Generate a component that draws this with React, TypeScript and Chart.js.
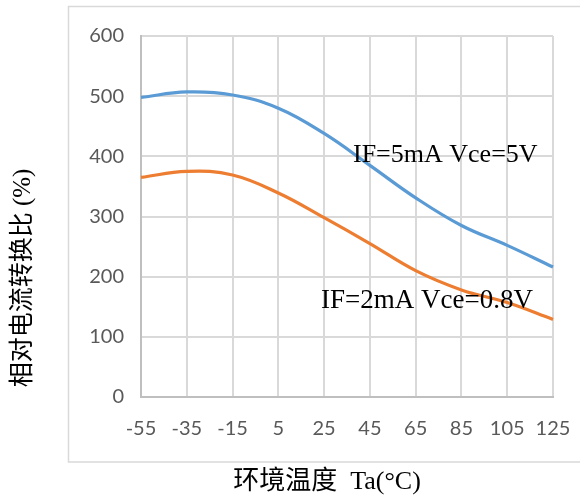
import React, { useEffect, useRef } from "react";
import { Chart, registerables } from "chart.js";

Chart.register(...registerables);

const temps = ["-55", "-35", "-15", "5", "25", "45", "65", "85", "105", "125"];
const ctr5mA = [498, 507, 502, 480, 438, 385, 331, 285, 252, 216];
const ctr2mA = [365, 375, 369, 339, 298, 255, 210, 178, 157, 129];
const seriesNames = ["IF=5mA Vce=5V", "IF=2mA Vce=0.8V"];
const yTitle = "相对电流转换比 (%)";
const xTitle = "环境温度  Ta(°C)";

const W = 580;
const H = 498;

const decor = {
  id: "decor",
  beforeDraw(chart: any) {
    const ctx = chart.ctx;
    ctx.save();
    ctx.fillStyle = "#ffffff";
    ctx.fillRect(0, 0, W, H);
    ctx.restore();
  },
  afterDraw(chart: any) {
    const ctx = chart.ctx;
    ctx.save();
    // chart frame
    ctx.strokeStyle = "#d9d9d9";
    ctx.lineWidth = 1.5;
    ctx.strokeRect(68.5, 6.5, 620, 455.5);
    // annotations
    ctx.fillStyle = "#000000";
    ctx.textBaseline = "alphabetic";
    ctx.textAlign = "left";
    ctx.font = '26px "Liberation Serif", "Times New Roman", serif';
    ctx.fillText(seriesNames[0], 353, 162);
    ctx.font = '27px "Liberation Serif", "Times New Roman", serif';
    ctx.fillText(seriesNames[1], 321, 308);
    // x title
    ctx.textAlign = "center";
    ctx.font = '26px "Liberation Serif", "Noto Sans CJK SC", serif';
    ctx.fillText(xTitle, 327, 489);
    // y title
    ctx.translate(30, 278);
    ctx.rotate(-Math.PI / 2);
    ctx.font = '25px "Liberation Serif", "Noto Sans CJK SC", serif';
    ctx.textBaseline = "alphabetic";
    ctx.fillText(yTitle, 0, 0);
    ctx.restore();
  },
};

export default function App() {
  const ref = useRef<HTMLCanvasElement | null>(null);
  useEffect(() => {
    if (!ref.current) return;
    const tickFont = { family: "Lato, 'Open Sans', sans-serif", size: 20 };
    const chart = new Chart(ref.current, {
      type: "line",
      data: {
        labels: temps,
        datasets: [
          {
            label: seriesNames[0],
            data: ctr5mA,
            borderColor: "#5B9BD5",
            borderWidth: 3.2,
            pointRadius: 0,
            tension: 0.4,
            fill: false,
          },
          {
            label: seriesNames[1],
            data: ctr2mA,
            borderColor: "#ED7D31",
            borderWidth: 3.2,
            pointRadius: 0,
            tension: 0.4,
            fill: false,
          },
        ],
      },
      options: {
        responsive: false,
        animation: false,
        devicePixelRatio: 1,
        layout: { padding: { top: 36, right: 27, left: 0, bottom: 0 } },
        plugins: {
          legend: { display: false },
          tooltip: { enabled: false },
        },
        scales: {
          x: {
            type: "category",
            offset: false,
            grid: { color: "#d9d9d9", lineWidth: 2, drawTicks: false },
            border: { color: "#bfbfbf", width: 2 },
            ticks: {
              color: "#595959",
              font: tickFont,
              padding: 20,
              maxRotation: 0,
              autoSkip: false,
            },
            afterFit(scale: any) {
              scale.height = H - 397;
              scale.paddingLeft = 0;
              scale.paddingRight = 0;
            },
          },
          y: {
            min: 0,
            max: 600,
            grid: { color: "#d9d9d9", lineWidth: 2, drawTicks: false },
            border: { color: "#bfbfbf", width: 2 },
            ticks: {
              stepSize: 100,
              color: "#595959",
              font: tickFont,
              padding: 17,
            },
            afterFit(scale: any) {
              scale.width = 141;
            },
          },
        },
      },
      plugins: [decor],
    });
    return () => chart.destroy();
  }, []);
  return (
    <div style={{ position: "absolute", left: 0, top: 0, width: W, height: H }}>
      <canvas ref={ref} width={W} height={H} style={{ width: W, height: H, display: "block" }} />
    </div>
  );
}
